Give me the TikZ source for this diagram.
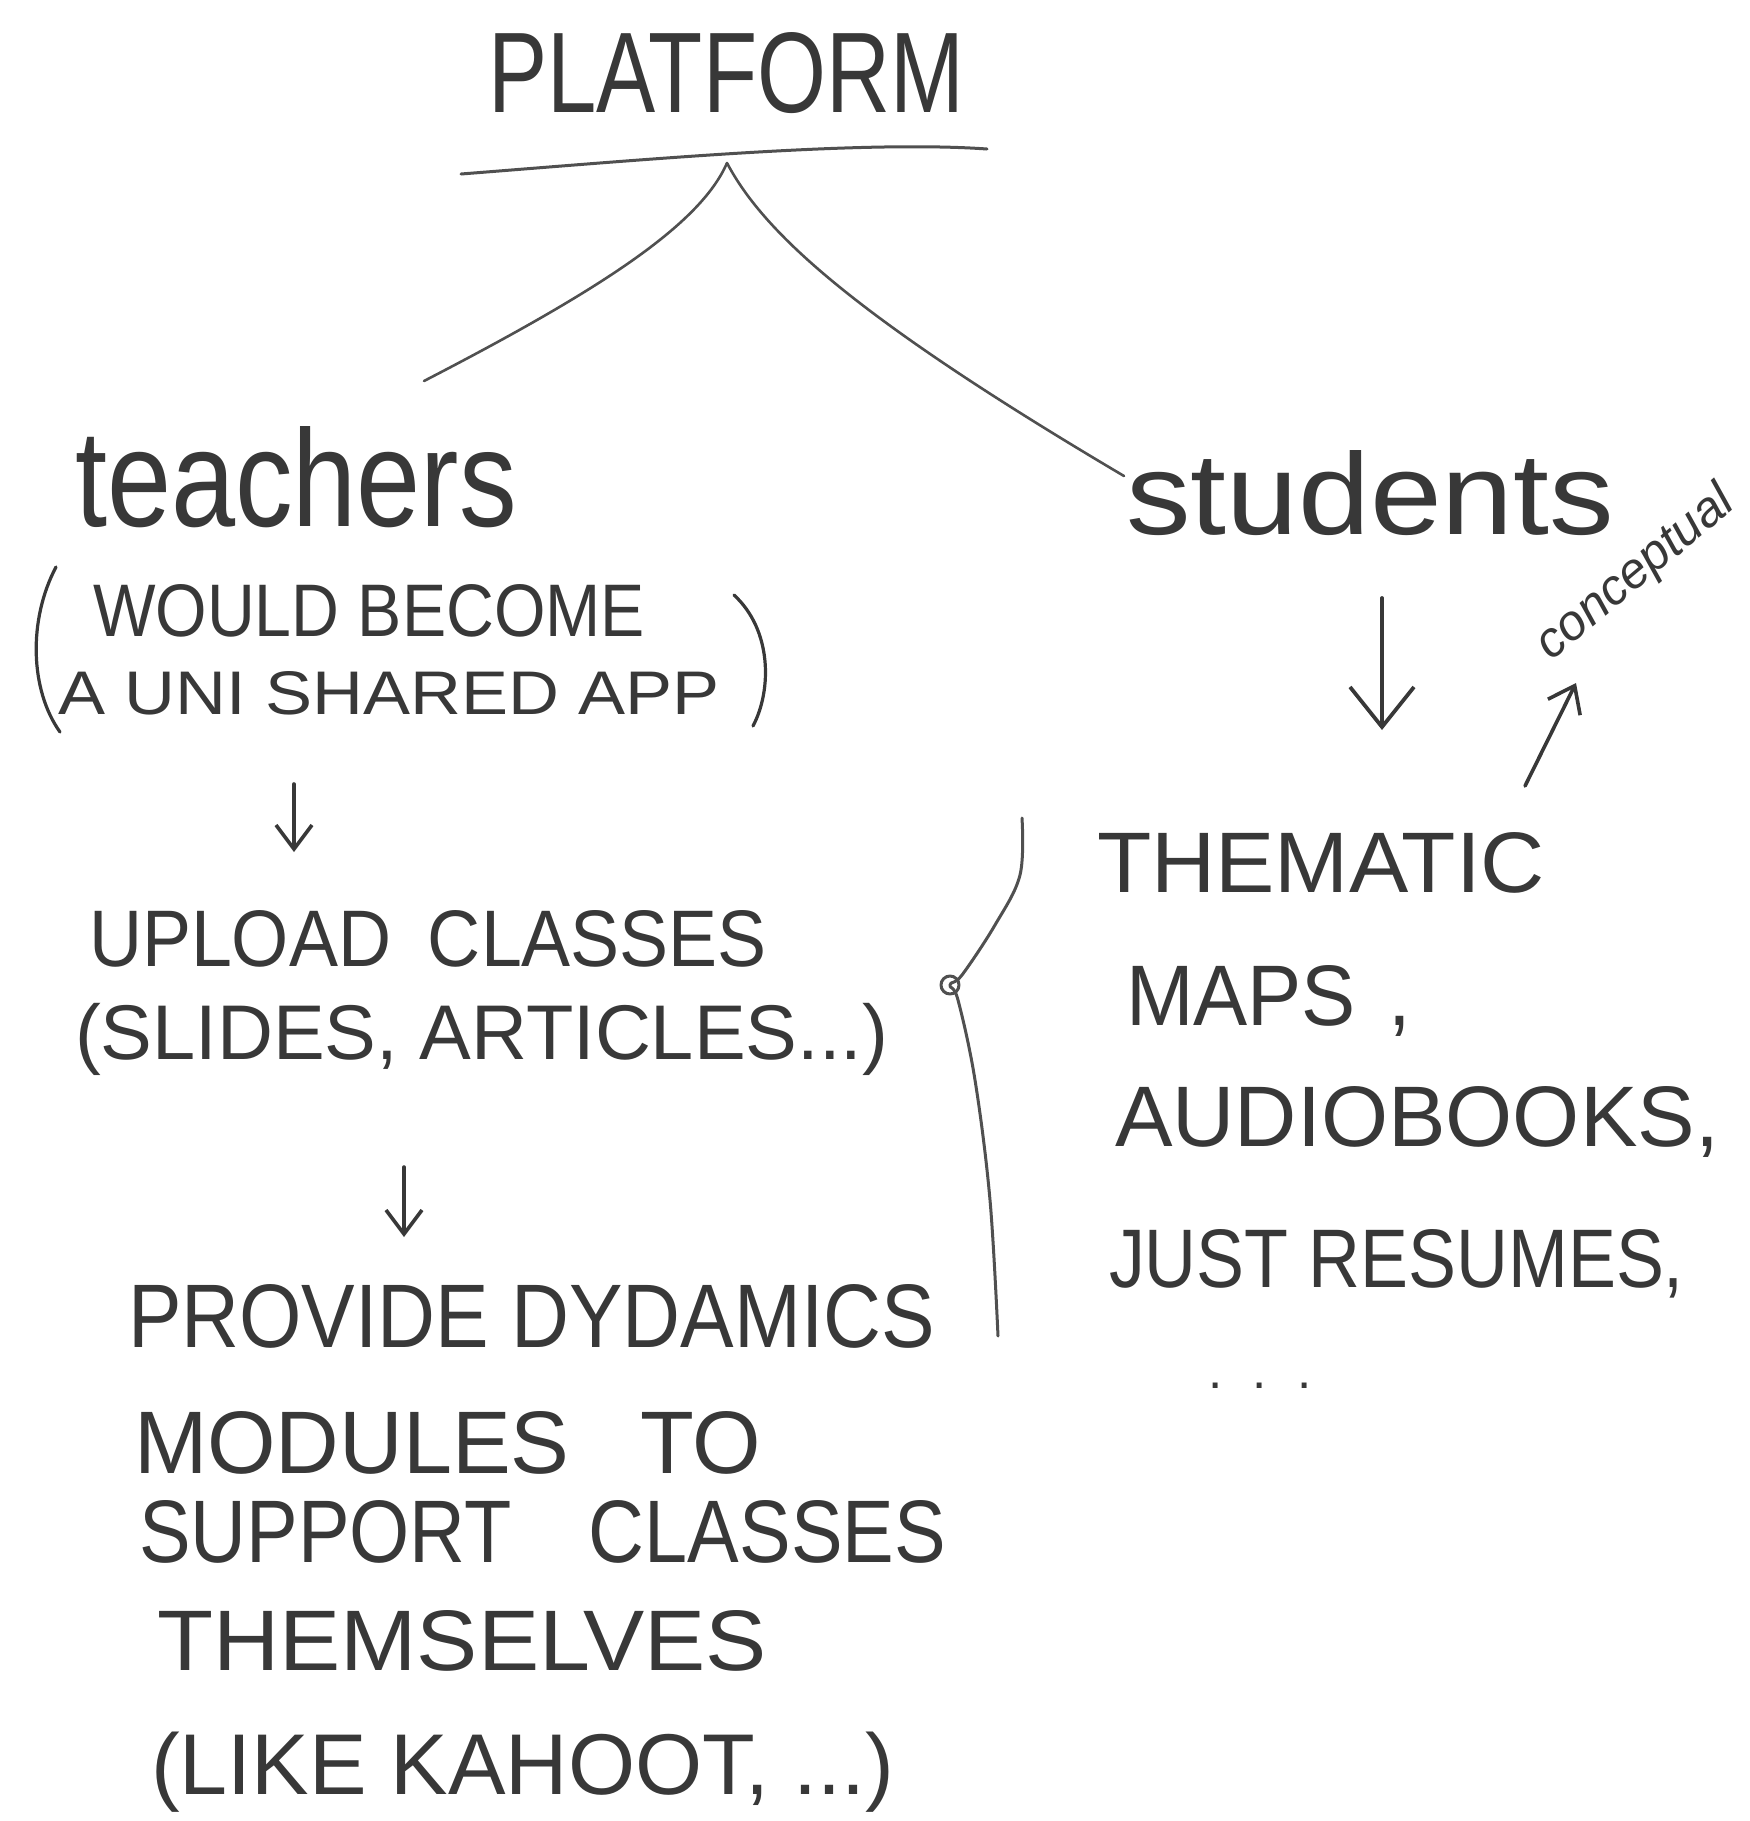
\documentclass[tikz,border=0pt]{standalone}
\usepackage{fontspec}
\setmainfont{Liberation Sans}
\usetikzlibrary{arrows.meta}
\definecolor{ink}{HTML}{383838}
\definecolor{pen}{HTML}{505050}
\newcommand\hwtext[2]{\resizebox{#1pt}{!}{\fontsize{100}{100}\selectfont #2}}
\newcommand\hwbox[3]{\resizebox{#1pt}{#2pt}{\fontsize{100}{100}\selectfont #3}}
\tikzset{
  hand/.style={anchor=base west, inner sep=0pt, outer sep=0pt, text=ink},
  conn/.style={draw=pen, line width=2.6pt, line cap=round, line join=round},
  paren/.style={draw=ink, line width=3.2pt, line cap=round},
  harrow/.style={draw=ink, line width=3.6pt, line cap=round, line join=round,
    -{Straight Barb[length=24pt, width=36pt, line width=3.6pt]}},
  bigarrow/.style={draw=ink, line width=3.8pt, line cap=round, line join=round,
    -{Straight Barb[length=40pt, width=64pt, line width=3.8pt]}},
}
\begin{document}
\begin{tikzpicture}[x=1pt,y=-1pt]
\fill[white] (0,0) rectangle (1750,1821);
\useasboundingbox (0,0) rectangle (1750,1821);

% title
\node[hand] (platform) at (488,112) {\hwbox{476}{80}{PLATFORM}};
\coordinate (ulL) at (461,174);
\coordinate (ulR) at (987,149);
\coordinate (peak) at (727,163);
\draw[conn, line width=3pt] (ulL) .. controls (640,160) and (860,140) .. (ulR);

% left column
\node[hand] (teachers) at (75,526) {\hwbox{442}{100}{teachers}};
\node[hand] (would) at (93,636) {\hwbox{552}{52}{WOULD BECOME}};
\node[hand] (shared) at (58,714) {\hwbox{662}{43}{A UNI SHARED APP}};
\coordinate (lpT) at (56,567);  \coordinate (lpB) at (60,732);
\coordinate (rpT) at (734,595); \coordinate (rpB) at (753,726);
\draw[paren] (lpT) .. controls (28,620) and (30,690) .. (lpB);
\draw[paren] (rpT) .. controls (772,630) and (772,690) .. (rpB);

\node[hand] (upload) at (89,966) {\hwbox{678}{56}{UPLOAD\hspace{0.5em}CLASSES}};
\node[hand] (slides) at (75,1059) {\hwtext{813}{(SLIDES, ARTICLES...)}};
\node[hand] (provide) at (128,1347) {\hwbox{807}{63}{PROVIDE DYDAMICS}};
\node[hand] (modules) at (134,1473) {\hwbox{627}{62}{MODULES\hspace{0.8em}TO}};
\node[hand] (support) at (139,1562) {\hwbox{807}{62}{SUPPORT\hspace{1em}CLASSES}};
\node[hand] (themselves) at (157,1670) {\hwbox{610}{60}{THEMSELVES}};
\node[hand] (kahoot) at (151,1794) {\hwtext{743}{(LIKE KAHOOT, ...)}};

\coordinate (a1s) at (294,784);  \coordinate (a1e) at (294,852);
\coordinate (a2s) at (404,1167); \coordinate (a2e) at (404,1237);
\draw[harrow] (a1s) -- (a1e);
\draw[harrow] (a2s) -- (a2e);

% right column
\node[hand] (students) at (1126,534) {\hwbox{488}{84}{students}};
\node[text=ink, inner sep=0pt, rotate=40, font=\fontsize{50}{50}\selectfont\itshape] (conceptual) at (1636,574) {conceptual};
\node[hand] (thematic) at (1097,892) {\hwbox{448}{60}{THEMATIC}};
\node[hand] (maps) at (1126,1025) {\hwbox{285}{60}{MAPS\hspace{0.4em},}};
\node[hand] (audio) at (1115,1146) {\hwbox{604}{60}{AUDIOBOOKS,}};
\node[hand] (resumes) at (1109,1287) {\hwbox{575}{58}{JUST RESUMES,}};
\node[hand] (dots) at (1208,1388) {\hwtext{104}{.\hspace{0.6em}.\hspace{0.6em}.}};

\coordinate (a3s) at (1382,598); \coordinate (a3e) at (1382,730);
\draw[bigarrow] (a3s) -- (a3e);
\coordinate (a4s) at (1525,786); \coordinate (a4e) at (1576,683);
\draw[harrow] (a4s) -- (a4e);

% branches from platform
\coordinate (tl) at (424,381);
\coordinate (tr) at (1124,476);
\draw[conn] (peak) .. controls (700,225) and (600,290) .. (tl);
\draw[conn] (peak) .. controls (765,235) and (860,320) .. (tr);

% brace grouping the two lists
\draw[conn, line width=3pt] plot[smooth, tension=0.6] coordinates
  {(1022,818) (1020,875) (995,925) (962,975) (950,985) (958,1000) (975,1080) (990,1200) (998,1336)};
\coordinate (loop) at (950,985);
\draw[conn, line width=3pt] (loop) circle[radius=9pt];
\end{tikzpicture}
\end{document}
